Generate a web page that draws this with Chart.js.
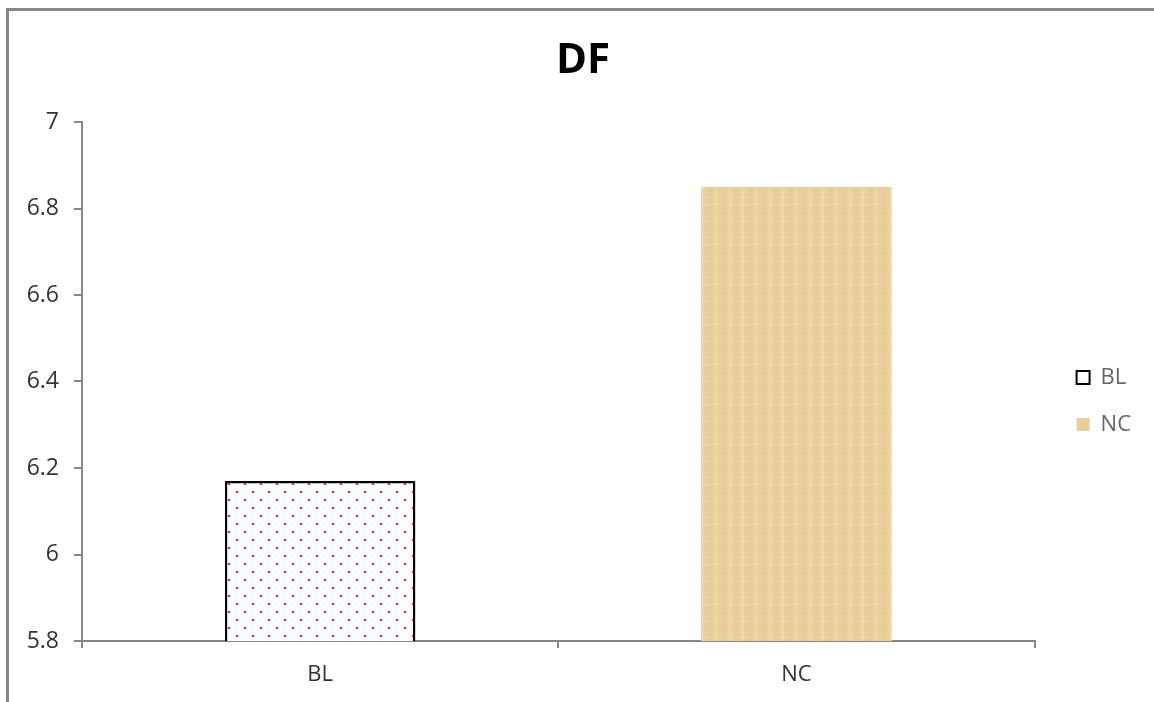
<!DOCTYPE html>
<html>
<head>
<meta charset="utf-8">
<script src="https://cdn.jsdelivr.net/npm/chart.js@4/dist/chart.umd.min.js"></script>
<style>
	html, body { margin: 0; padding: 0; background: #ffffff; overflow: hidden; }
	#wrap { position: relative; width: 1154px; height: 702px; }
	#frame { position: absolute; left: 6px; top: 8px; width: 1300px; height: 900px;
		border-left: 3px solid #878787; border-top: 3px solid #878787; pointer-events: none; }
</style>
</head>
<body>
<div id="wrap">
	<canvas id="chart" width="1154" height="702"></canvas>
	<div id="frame"></div>
</div>
<script>
var categories = ['BL', 'NC'];
var values = [6.17, 6.85];
var yTicks = [5.8, 6, 6.2, 6.4, 6.6, 6.8, 7];

var axisGray = '#878787';
var textGray = '#333333';

// red dotted fill for BL
function dotPattern() {
	var c = document.createElement('canvas');
	c.width = 16; c.height = 16;
	var g = c.getContext('2d');
	g.fillStyle = '#ffffff';
	g.fillRect(0, 0, 16, 16);
	g.fillStyle = 'rgba(235,90,115,0.25)';
	g.fillRect(3, 3, 4, 2);
	g.fillRect(11, 11, 4, 2);
	g.fillStyle = '#e4284a';
	g.fillRect(4, 3, 2, 2);
	g.fillRect(12, 11, 2, 2);
	return g.createPattern(c, 'repeat');
}

// papyrus-like texture for NC
function papyrusPattern() {
	var c = document.createElement('canvas');
	c.width = 40; c.height = 40;
	var g = c.getContext('2d');
	g.fillStyle = '#e9d09b';
	g.fillRect(0, 0, 40, 40);
	var vx = [2, 9, 15, 22, 29, 35];
	vx.forEach(function (x, i) {
		g.fillStyle = i % 2 ? 'rgba(255,245,220,0.22)' : 'rgba(200,160,90,0.10)';
		g.fillRect(x, 0, 2, 40);
	});
	var hy = [4, 13, 21, 30, 37];
	hy.forEach(function (y, i) {
		g.fillStyle = i % 2 ? 'rgba(190,150,80,0.08)' : 'rgba(255,245,220,0.18)';
		g.fillRect(0, y, 40, 1);
	});
	return g.createPattern(c, 'repeat');
}

var ctx = document.getElementById('chart').getContext('2d');
var fills = [dotPattern(), papyrusPattern()];
var legendFills = ['#ffffff', '#e8cf99'];
var legendStrokes = ['#000000', '#e8cf99'];
var legendWidths = [2, 0];

var data = {
	labels: categories,
	datasets: [{
		label: 'DF',
		data: values,
		backgroundColor: fills,
		borderColor: ['#000000', 'rgba(0,0,0,0)'],
		borderWidth: [2.5, 0],
		barPercentage: 0.4,
		categoryPercentage: 1
	}]
};

var options = {
	responsive: false,
	animation: false,
	layout: { padding: { left: 25, right: 13, top: 0, bottom: 0 } },
	plugins: {
		title: {
			display: true,
			text: 'DF',
			color: '#000000',
			font: { family: 'Open Sans', size: 42, weight: 'bold', lineHeight: 1.2 },
			padding: { top: 36, bottom: 35.6 }
		},
		legend: {
			position: 'right',
			fullSize: false,
			title: { display: true, text: '', font: { size: 10 }, padding: { top: 27, bottom: 0 } },
			labels: {
				boxWidth: 13,
				boxHeight: 13,
				padding: 25,
				color: textGray,
				font: { family: 'Open Sans', size: 22 },
				generateLabels: function (chart) {
					return chart.data.labels.map(function (l, i) {
						return {
							text: l,
							fillStyle: legendFills[i],
							strokeStyle: legendStrokes[i],
							lineWidth: legendWidths[i],
							hidden: false,
							index: i
						};
					});
				}
			}
		},
		tooltip: { enabled: false }
	},
	scales: {
		x: {
			grid: { drawOnChartArea: false, tickLength: 7, color: axisGray, lineWidth: 2, offset: true },
			border: { color: axisGray, width: 2 },
			ticks: { color: textGray, padding: 14, font: { family: 'Open Sans', size: 22 } },
			afterFit: function (s) { s.height = 61; }
		},
		y: {
			min: 5.8,
			max: 7,
			grid: { drawOnChartArea: false, tickLength: 8, color: axisGray, lineWidth: 2 },
			border: { color: axisGray, width: 2 },
			ticks: {
				stepSize: 0.2,
				padding: 15,
				color: textGray,
				font: { family: 'Open Sans', size: 23 },
				callback: function (v) { return String(Math.round(v * 10) / 10); }
			},
			afterBuildTicks: function (s) {
				s.ticks = yTicks.map(function (v) { return { value: v }; });
			},
			afterFit: function (s) { s.width = 57; }
		},
		gap: {
			position: 'right',
			display: true,
			grid: { display: false },
			ticks: { display: false },
			border: { display: false },
			afterFit: function (s) { s.width = 17; }
		}
	}
};

var chartInstance = new Chart(ctx, {
	type: 'bar',
	data: data,
	options: options
});
</script>
</body>
</html>
